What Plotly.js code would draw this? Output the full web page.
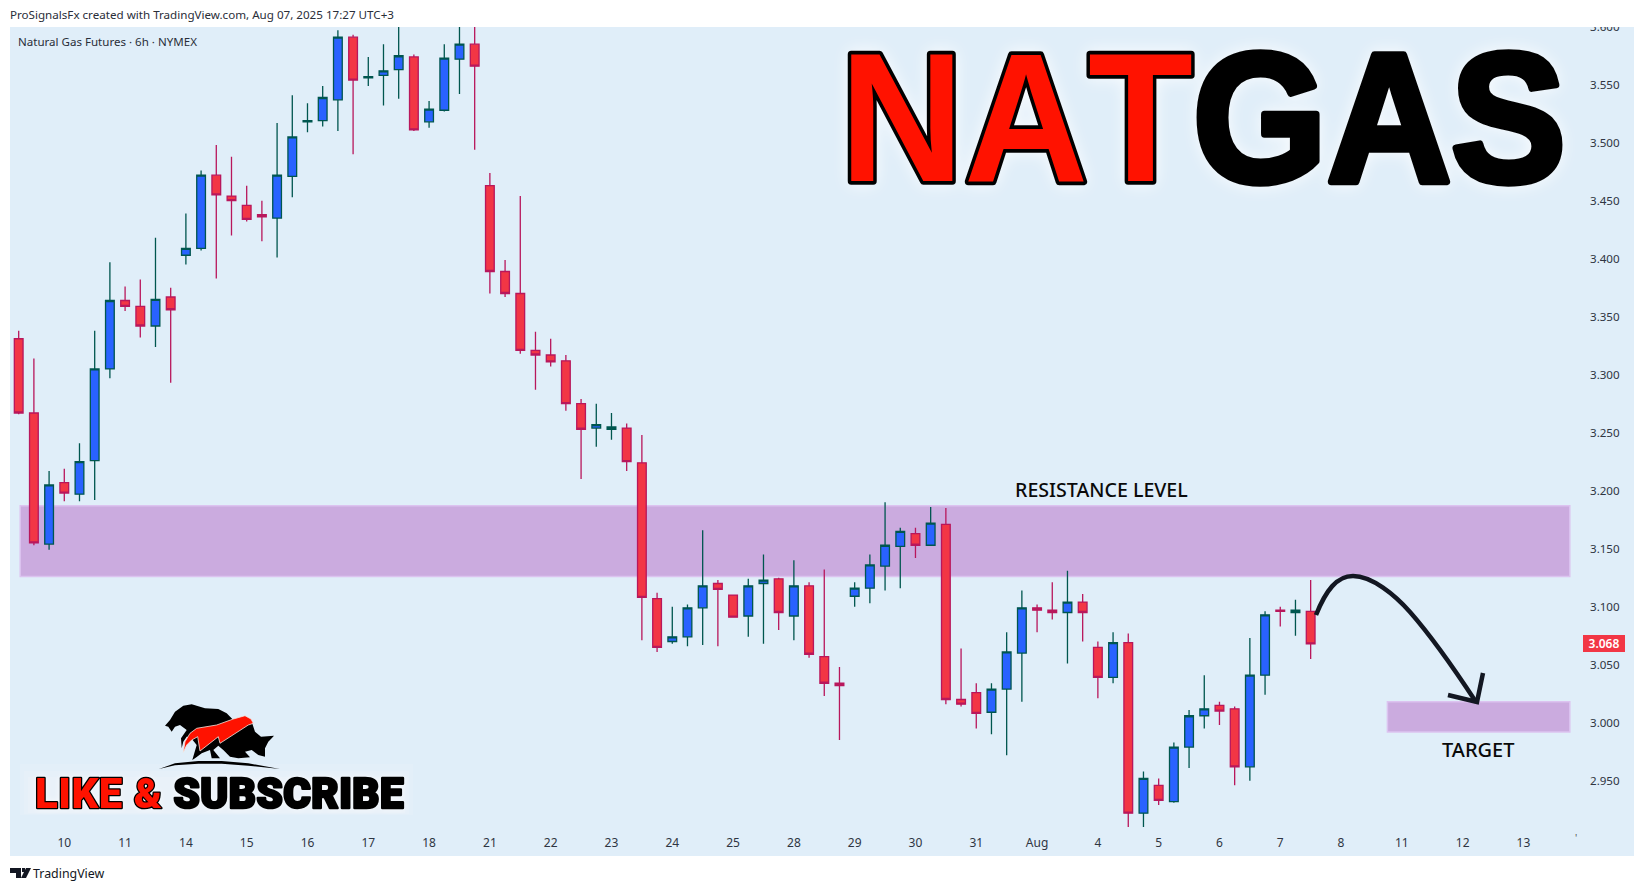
<!DOCTYPE html>
<html>
<head>
<meta charset="utf-8">
<script src="https://cdn.plot.ly/plotly-3.0.1.min.js"></script>
<style>
html,body{margin:0;padding:0;background:#fff;overflow:hidden}
#chart{width:1643px;height:891px}
g.annotation[data-index="0"] text{stroke:#000;stroke-width:7px;paint-order:stroke;stroke-linejoin:round;font-kerning:none;transform-box:fill-box;transform-origin:center;transform:scale(1,1.065);filter:drop-shadow(0 0 8px rgba(255,255,255,.85))}
g.annotation[data-index="1"] text{stroke:#000;stroke-width:2.6px;paint-order:stroke;stroke-linejoin:round;letter-spacing:0.5px;filter:drop-shadow(0 0 3px rgba(255,255,255,.7))}
</style>
</head>
<body>
<div id="chart"></div>
<script>
const opens=[3.331,3.267,3.154,3.207,3.197,3.226,3.305,3.364,3.359,3.342,3.367,3.403,3.409,3.472,3.454,3.446,3.438,3.435,3.471,3.518,3.519,3.537,3.591,3.556,3.558,3.563,3.574,3.518,3.528,3.572,3.585,3.463,3.389,3.370,3.321,3.317,3.312,3.275,3.254,3.253,3.254,3.224,3.107,3.070,3.074,3.099,3.120,3.110,3.092,3.120,3.124,3.092,3.118,3.057,3.034,3.109,3.116,3.135,3.152,3.163,3.153,3.171,3.020,3.026,3.009,3.029,3.060,3.099,3.097,3.095,3.104,3.065,3.039,3.069,2.922,2.946,2.932,2.979,3.006,3.015,3.012,2.962,3.041,3.097,3.095,3.096];
const highs=[3.338,3.314,3.217,3.219,3.241,3.338,3.397,3.376,3.382,3.418,3.375,3.439,3.476,3.498,3.488,3.463,3.450,3.517,3.541,3.534,3.549,3.597,3.593,3.574,3.585,3.610,3.576,3.536,3.585,3.610,3.610,3.474,3.399,3.454,3.337,3.331,3.317,3.279,3.275,3.267,3.258,3.248,3.112,3.100,3.102,3.166,3.123,3.110,3.124,3.145,3.125,3.140,3.121,3.132,3.048,3.121,3.145,3.190,3.168,3.168,3.186,3.185,3.064,3.034,3.034,3.078,3.114,3.102,3.121,3.131,3.111,3.070,3.078,3.077,2.958,2.952,2.983,3.011,3.041,3.018,3.014,3.073,3.096,3.100,3.106,3.123];
const lows=[3.266,3.153,3.149,3.191,3.191,3.192,3.297,3.355,3.332,3.324,3.293,3.395,3.407,3.383,3.420,3.432,3.415,3.401,3.453,3.509,3.514,3.510,3.490,3.549,3.532,3.538,3.510,3.513,3.527,3.542,3.494,3.370,3.367,3.318,3.287,3.307,3.269,3.210,3.238,3.244,3.217,3.071,3.061,3.068,3.066,3.067,3.066,3.091,3.074,3.068,3.080,3.071,3.056,3.023,2.985,3.100,3.103,3.114,3.116,3.142,3.153,3.016,3.014,2.995,2.990,2.972,3.018,3.078,3.089,3.051,3.070,3.021,3.034,2.910,2.910,2.929,2.931,2.961,2.995,2.998,2.946,2.950,3.024,3.083,3.075,3.055];
const closes=[3.267,3.155,3.205,3.198,3.225,3.305,3.364,3.359,3.342,3.365,3.356,3.409,3.472,3.455,3.450,3.434,3.436,3.472,3.505,3.519,3.539,3.591,3.554,3.557,3.562,3.575,3.511,3.529,3.573,3.585,3.566,3.389,3.370,3.321,3.317,3.311,3.275,3.253,3.257,3.255,3.225,3.108,3.065,3.074,3.099,3.118,3.115,3.091,3.118,3.123,3.095,3.118,3.059,3.034,3.032,3.116,3.136,3.153,3.165,3.153,3.172,3.020,3.016,3.008,3.029,3.061,3.099,3.097,3.095,3.104,3.095,3.039,3.069,2.922,2.952,2.933,2.979,3.006,3.012,3.010,2.962,3.041,3.093,3.096,3.097,3.068];
const tickLabels=['10','11','14','15','16','17','18','21','22','23','24','25','28','29','30','31','Aug','4','5','6','7','8','11','12','13'];
const resistanceZone=[3.126,3.187];
const targetZone=[2.992,3.018];
const lastPrice=3.068;

const candleIndex=opens.map((_,i)=>i);
const tickIndex=tickLabels.map((_,k)=>3+4*k);

// page pixels -> paper fractions (plot area is x 10..1580, y 20..830)
const X=p=>(p-10)/1570, Y=p=>(830-p)/810;
const pagePath=(d,o)=>Object.assign({type:'path',xref:'paper',yref:'paper',xsizemode:'pixel',ysizemode:'pixel',xanchor:X(0),yanchor:Y(0),path:d,line:{width:0}},o);
const pagePoly=(pts,ox,oy,s)=>'M'+pts.map(p=>(ox+p[0]*s).toFixed(1)+','+(-(oy+p[1]*s)).toFixed(1)).join(' L')+' Z';
const pageRect=(x0,y0,x1,y1,fill,layer)=>pagePath(pagePoly([[x0,y0],[x1,y0],[x1,y1],[x0,y1]],0,0,1),{fillcolor:fill,layer:layer});
const label=(text,x,y,opt,font)=>Object.assign({text,xref:'paper',yref:'paper',x:X(x),y:Y(y),xanchor:'left',yanchor:'middle',showarrow:false,borderpad:0,borderwidth:0,font:Object.assign({family:'"Noto Sans",sans-serif',size:12,color:'#2a2e39'},font)},opt);

const bearBull=[[30,92],[45,75],[60,50],[85,32],[110,28],[150,40],[190,42],[215,55],[232,72],[262,78],[290,80],[300,110],[318,125],[357,122],[350,130],[340,140],[330,160],[330,185],[310,180],[290,165],[270,170],[285,187],[250,190],[225,185],[205,165],[190,152],[175,165],[195,190],[170,190],[165,165],[140,175],[120,190],[112,195],[125,150],[105,125],[95,125],[85,140],[80,160],[78,130],[95,105],[75,90],[60,95],[50,110],[40,95]];
const flame=[[85,172],[90,140],[105,115],[125,100],[185,90],[235,72],[270,62],[288,72],[295,85],[280,90],[195,145],[190,125],[135,168],[128,125],[110,135],[95,150]];
const crescent=[[12,222],[60,205],[130,198],[200,198],[280,205],[375,222],[280,212],[200,206],[130,206],[60,211]];

const data=[{type:'candlestick',x:candleIndex,open:opens,high:highs,low:lows,close:closes,
  increasing:{line:{color:'#00564f',width:1.3},fillcolor:'#2962ff'},
  decreasing:{line:{color:'#b8175c',width:1.3},fillcolor:'#f23645'},
  whiskerwidth:0,hoverinfo:'skip',showlegend:false}];

const zoneStyle={type:'rect',xref:'x',yref:'y',layer:'below',fillcolor:'#cbabdf',line:{color:'#dcc3f0',width:1.5}};
const shapes=[
  pageRect(10,27,1634,856,'#e0eef9','below'),
  pageRect(20,764,413,815,'rgba(255,255,255,0.11)','below'),
  pageRect(24,771,409,814,'rgba(255,255,255,0.11)','below'),
  pageRect(28,777,405,813,'rgba(255,255,255,0.12)','below'),
  Object.assign({},zoneStyle,{x0:0.1,x1:102.05,y0:resistanceZone[0],y1:resistanceZone[1]}),
  Object.assign({},zoneStyle,{x0:90.05,x1:102.05,y0:targetZone[0],y1:targetZone[1]}),
  pageRect(0,0,1643,27,'#ffffff','above'),
  pagePath('M1316,-615 C1326,-590 1337,-576 1353,-576 C1372,-576 1395,-595 1410,-612 C1432,-637 1455,-670 1476,-702',{line:{color:'#131722',width:4.5}}),
  pagePath('M1483,-673 L1477,-702 L1448,-695',{line:{color:'#131722',width:4.5}}),
  pagePath(pagePoly(bearBull,155,695,1/3),{fillcolor:'#000'}),
  pagePath(pagePoly(crescent,155,695,1/3),{fillcolor:'#000'}),
  pagePath(pagePoly(flame,155,695,1/3),{fillcolor:'#ff1200',line:{color:'#f2e6e0',width:0.8}}),
  pagePath(pagePoly([[10,868],[21,868],[21,878],[16,878],[16,873],[10,873]],0,0,1),{fillcolor:'#131722'}),
  pagePath(pagePoly([[22,868],[25,868],[25,872],[22,872]],0,0,1),{fillcolor:'#131722'}),
  pagePath(pagePoly([[26,868],[31,868],[26,878],[21,878]],0,0,1),{fillcolor:'#131722'})
];

const annotations=[
  label("<span style='color:#ff1200'>NAT</span><span style='color:#000'>GAS</span>",1202.5,117,{xanchor:'center'},{family:'"Liberation Sans",Arial,sans-serif',size:172,weight:700,color:'#000'}),
  label("<span style='color:#ff1200'>LIKE &amp; </span><span style='color:#000'>SUBSCRIBE</span>",219,793,{xanchor:'center'},{family:'Roboto,sans-serif',size:42,weight:900,color:'#000'}),
  label('RESISTANCE LEVEL',1101,489,{xanchor:'center'},{size:19.6,weight:500,color:'#0a0a0a'}),
  label('TARGET',1478,749,{xanchor:'center'},{size:20,weight:500,color:'#0a0a0a'}),
  label('ProSignalsFx created with TradingView.com, Aug 07, 2025 17:27 UTC+3',10,15,{},{size:11.62,color:'#2a2e39'}),
  label('Natural Gas Futures · 6h · NYMEX',18,42,{},{size:11.55,color:'#2a2e39'}),
  Object.assign(label(lastPrice.toFixed(3),1603.5,0,{xanchor:'center',yref:'y',y:lastPrice,bgcolor:'#f23645',width:42,height:17,align:'center'},{size:12,weight:600,color:'#fff'})),
  label('TradingView',33,873,{},{size:12.4,color:'#131722'}),
  label("'",1576,838,{xanchor:'center'},{size:10,color:'#555'})
];

const layout={
  width:1643,height:891,margin:{l:10,r:63,t:20,b:61,pad:0},boxgap:0.18,
  paper_bgcolor:'#ffffff',plot_bgcolor:'rgba(0,0,0,0)',showlegend:false,dragmode:false,
  xaxis:{type:'linear',range:[-0.572,102.72],tickmode:'array',tickvals:tickIndex,ticktext:tickLabels,showgrid:false,zeroline:false,showline:false,ticklen:0,ticklabelstandoff:4,tickfont:{family:'"Noto Sans",sans-serif',size:12,color:'#2f3542'},rangeslider:{visible:false},fixedrange:true},
  yaxis:{type:'linear',side:'right',range:[2.9075,3.6058],tick0:3,dtick:0.05,tickformat:'.3f',showgrid:false,zeroline:false,showline:false,ticklen:0,ticklabelstandoff:9,tickfont:{family:'"Noto Sans",sans-serif',size:11.6,color:'#2f3542'},fixedrange:true},
  shapes,annotations
};
Plotly.newPlot('chart',data,layout,{displayModeBar:false,staticPlot:true});
</script>
</body>
</html>
